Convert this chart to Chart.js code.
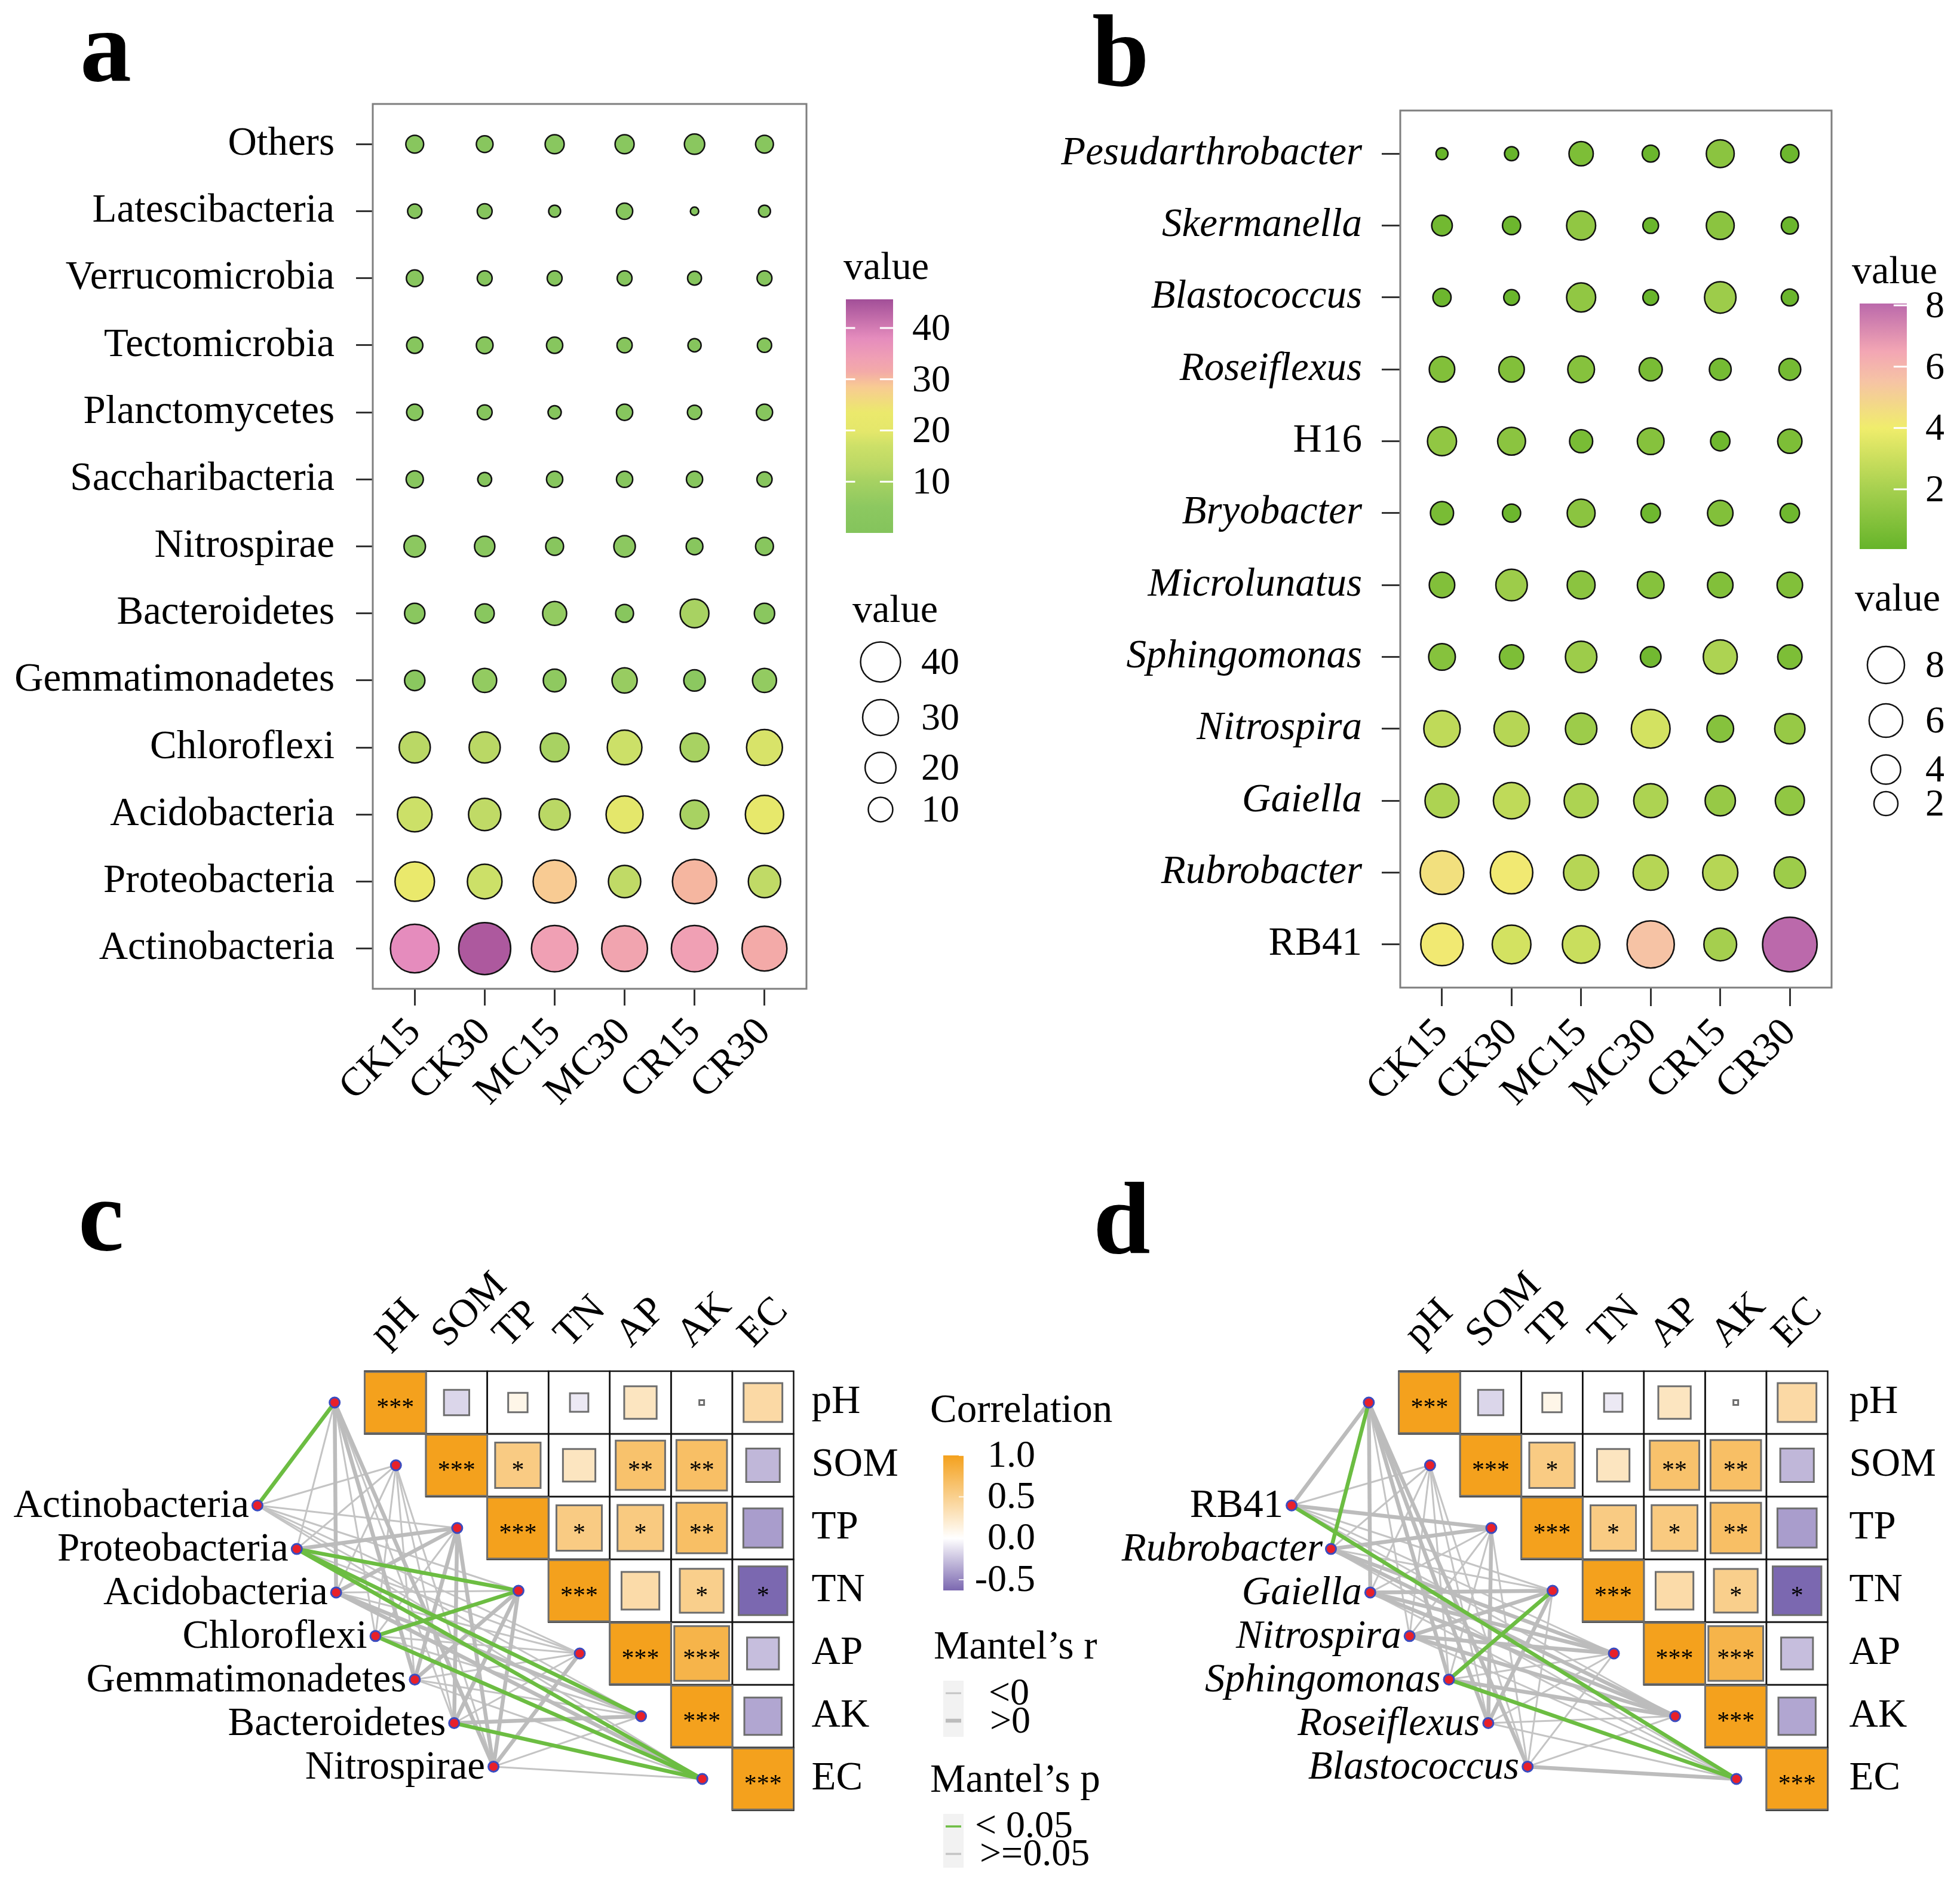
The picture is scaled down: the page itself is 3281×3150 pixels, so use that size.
<!DOCTYPE html>
<html>
<head>
<meta charset="utf-8">
<script src="https://cdn.jsdelivr.net/npm/chart.js@4.4.0/dist/chart.umd.min.js"></script>
<style>
html, body { margin: 0; padding: 0; background: #fff; }
body { width: 3281px; height: 3150px; position: relative; overflow: hidden; }
canvas { position: absolute; }
</style>
</head>
<body>
<canvas id="panel-a" width="1720" height="1900" style="left:0;top:0"></canvas>
<canvas id="panel-b" width="1581" height="1900" style="left:1700px;top:0"></canvas>
<canvas id="panel-c" width="1900" height="1200" style="left:0;top:1950px"></canvas>
<canvas id="panel-d" width="1481" height="1200" style="left:1800px;top:1950px"></canvas>
<script>
// ---- data ----
const samples = ['CK15', 'CK30', 'MC15', 'MC30', 'CR15', 'CR30'];

const phylaA = ['Others', 'Latescibacteria', 'Verrucomicrobia', 'Tectomicrobia',
    'Planctomycetes', 'Saccharibacteria', 'Nitrospirae', 'Bacteroidetes',
    'Gemmatimonadetes', 'Chloroflexi', 'Acidobacteria', 'Proteobacteria',
    'Actinobacteria'];
// relative abundance (%), rows follow phylaA, columns follow samples
const abundA = [
    [2.7, 2.2, 3.3, 3.3, 4.0, 2.7],
    [1.3, 1.5, 0.7, 2.0, 0.23, 0.7],
    [2.2, 1.5, 1.5, 1.5, 1.2, 1.5],
    [2.0, 2.2, 2.0, 1.6, 1.0, 1.3],
    [2.0, 1.5, 1.0, 2.0, 1.3, 2.0],
    [2.4, 1.2, 2.0, 2.0, 2.0, 1.6],
    [4.7, 4.0, 2.7, 4.7, 2.2, 2.7],
    [4.0, 3.3, 6.4, 2.7, 10.4, 4.0],
    [4.0, 6.4, 5.5, 7.3, 4.7, 6.4],
    [12.8, 12.8, 10.4, 16.8, 10.4, 18.3],
    [16.8, 14.1, 12.8, 19.8, 10.4, 21.5],
    [23.1, 16.8, 28.5, 14.1, 30.4, 14.1],
    [38.0, 44.4, 34.0, 33.0, 34.0, 31.5],
];

const generaB = ['Pesudarthrobacter', 'Skermanella', 'Blastococcus', 'Roseiflexus',
    'H16', 'Bryobacter', 'Microlunatus', 'Sphingomonas', 'Nitrospira',
    'Gaiella', 'Rubrobacter', 'RB41'];
const abundB = [
    [0.05, 0.07, 0.72, 0.16, 1.17, 0.22],
    [0.38, 0.22, 1.34, 0.11, 1.17, 0.16],
    [0.22, 0.11, 1.34, 0.11, 1.73, 0.16],
    [0.86, 0.86, 1.01, 0.60, 0.48, 0.48],
    [1.34, 1.17, 0.60, 1.01, 0.29, 0.72],
    [0.60, 0.22, 1.17, 0.29, 0.86, 0.29],
    [0.86, 1.73, 1.17, 1.01, 0.86, 0.86],
    [1.01, 0.72, 1.73, 0.38, 2.19, 0.72],
    [2.68, 2.43, 1.73, 3.22, 1.01, 1.53],
    [2.19, 2.68, 2.19, 2.19, 1.53, 1.34],
    [4.49, 4.16, 2.43, 2.43, 2.43, 1.73],
    [4.16, 3.22, 2.94, 5.55, 1.96, 8.06],
];
const plainNames = ['H16', 'RB41'];

const envFactors = ['pH', 'SOM', 'TP', 'TN', 'AP', 'AK', 'EC'];
// Pearson r between soil factors (upper triangle)
const envCorr = [
    [1, -0.17, 0.10, -0.09, 0.28, 0.006, 0.40],
    [null, 1, 0.55, 0.28, 0.65, 0.68, -0.30],
    [null, null, 1, 0.55, 0.56, 0.68, -0.41],
    [null, null, null, 1, 0.38, 0.51, -0.63],
    [null, null, null, null, 1, 0.80, -0.27],
    [null, null, null, null, null, 1, -0.37],
    [null, null, null, null, null, null, 1],
];
const envSig = [
    ['***', '', '', '', '', '', ''],
    ['', '***', '*', '', '**', '**', ''],
    ['', '', '***', '*', '*', '**', ''],
    ['', '', '', '***', '', '*', '*'],
    ['', '', '', '', '***', '***', ''],
    ['', '', '', '', '', '***', ''],
    ['', '', '', '', '', '', '***'],
];

// Mantel tests: rows = taxa, columns = envFactors
// sign of Mantel's r (1: >0, -1: <0), significance (1: p < 0.05)
const taxaC = ['Actinobacteria', 'Proteobacteria', 'Acidobacteria', 'Chloroflexi',
    'Gemmatimonadetes', 'Bacteroidetes', 'Nitrospirae'];
const mantelSignC = [
    [1, -1, -1, -1, -1, -1, -1],
    [-1, -1, 1, 1, -1, 1, 1],
    [1, -1, 1, -1, -1, 1, 1],
    [-1, -1, -1, 1, -1, -1, 1],
    [1, -1, 1, 1, -1, -1, -1],
    [-1, -1, 1, 1, -1, 1, 1],
    [1, -1, 1, 1, 1, -1, -1],
];
const mantelSigC = [
    [1, 0, 0, 0, 0, 0, 0],
    [0, 0, 0, 1, 0, 1, 1],
    [0, 0, 0, 0, 0, 0, 0],
    [0, 0, 0, 1, 0, 0, 1],
    [0, 0, 0, 0, 0, 0, 0],
    [0, 0, 0, 0, 0, 0, 1],
    [0, 0, 0, 0, 0, 0, 0],
];

const taxaD = ['RB41', 'Rubrobacter', 'Gaiella', 'Nitrospira', 'Sphingomonas',
    'Roseiflexus', 'Blastococcus'];
const mantelSignD = [
    [1, -1, 1, -1, -1, -1, 1],
    [1, -1, 1, -1, 1, 1, -1],
    [1, -1, -1, 1, 1, 1, -1],
    [-1, -1, -1, 1, 1, 1, -1],
    [1, -1, -1, 1, -1, 1, 1],
    [1, -1, 1, 1, -1, -1, -1],
    [1, -1, -1, -1, -1, -1, 1],
];
const mantelSigD = [
    [0, 0, 0, 0, 0, 0, 1],
    [1, 0, 0, 0, 0, 0, 0],
    [0, 0, 0, 0, 0, 0, 0],
    [0, 0, 0, 0, 0, 0, 0],
    [0, 0, 0, 1, 0, 0, 1],
    [0, 0, 0, 0, 0, 0, 0],
    [0, 0, 0, 0, 0, 0, 0],
];

// ---- styling ----
const SERIF = "'Liberation Serif', 'Times New Roman', serif";
Chart.defaults.font.family = SERIF;
Chart.defaults.color = '#000';

const rampA = [[0, '#84c45c'], [5, '#8cc860'], [10.4, '#a8d262'], [12.8, '#bad865'],
    [17, '#cde068'], [19.8, '#e4e76b'], [23.5, '#ebe96c'], [28.5, '#f8cb93'],
    [31.5, '#f3aaa8'], [34, '#f0a0b4'], [38, '#e58cbd'], [45.6, '#a24f98']];
const rampB = [[0, '#66b42a'], [2, '#a6d04f'], [4, '#f0ed6c'], [5.5, '#f6c4a4'],
    [6.5, '#f3a6b4'], [8.06, '#bb69ab']];
const rampCorr = [[-0.63, '#7b68b0'], [0, '#ffffff'], [1, '#f4a11d']];
const GREEN = '#6cbd42';
const GREY_THIN = '#c4c4c4';
const GREY_THICK = '#bcbcbc';
const THIN = 3;
const THICK = 6.5;

function hexRgb(h) {
    return [1, 3, 5].map(i => parseInt(h.slice(i, i + 2), 16));
}

function rampColor(stops, v) {
    'use strict';
    if (v <= stops[0][0]) return stops[0][1];
    for (let i = 1; i < stops.length; ++i) {
        if (v <= stops[i][0]) {
            const t = (v - stops[i - 1][0]) / (stops[i][0] - stops[i - 1][0]);
            const a = hexRgb(stops[i - 1][1]);
            const b = hexRgb(stops[i][1]);
            const c = a.map((x, k) => Math.round(x + (b[k] - x) * t));
            return 'rgb(' + c.join(',') + ')';
        }
    }
    return stops[stops.length - 1][1];
}

// point radius in px (area scale as ggplot's scale_size)
const sizeA = v => 6 + 38 * Math.sqrt(Math.max(0, v - 0.2) / 45.4);
const sizeB = v => 10 + 35.6 * Math.sqrt(Math.max(0, v - 0.05) / 8.01);
// legend key circles
const keySizeA = v => 7.5 + 4.1 * Math.sqrt(v);
const keySizeB = v => 9 + 7.8 * Math.sqrt(v);

function panelTag(letter, x, y) {
    return {
        id: 'panelTag',
        afterDraw(chart) {
            const ctx = chart.ctx;
            ctx.save();
            ctx.fillStyle = '#000';
            ctx.font = 'bold 172px ' + SERIF;
            ctx.textAlign = 'left';
            ctx.textBaseline = 'alphabetic';
            ctx.fillText(letter, x, y);
            ctx.restore();
        },
    };
}

const panelBox = {
    id: 'panelBox',
    afterDatasetsDraw(chart) {
        const a = chart.chartArea;
        const ctx = chart.ctx;
        ctx.save();
        ctx.strokeStyle = '#7f7f7f';
        ctx.lineWidth = 3;
        ctx.strokeRect(a.left, a.top, a.right - a.left, a.bottom - a.top);
        ctx.restore();
    },
};

// colour bar + size key on the right of panels a and b
function valueLegend(cfg) {
    return {
        id: 'valueLegend',
        afterDraw(chart) {
            const ctx = chart.ctx;
            const bar = cfg.bar;
            const yOf = v => bar.bottom - (v - cfg.min) / (cfg.max - cfg.min) * (bar.bottom - bar.top);
            ctx.save();
            ctx.fillStyle = '#000';
            ctx.font = '66px ' + SERIF;
            ctx.textBaseline = 'alphabetic';
            ctx.textAlign = 'left';
            ctx.fillText('value', cfg.titleX, cfg.titleY);

            const g = ctx.createLinearGradient(0, bar.bottom, 0, bar.top);
            cfg.ramp.forEach(([v, c]) => {
                const f = Math.min(1, Math.max(0, (v - cfg.min) / (cfg.max - cfg.min)));
                g.addColorStop(f, c);
            });
            ctx.fillStyle = g;
            ctx.fillRect(bar.left, bar.top, bar.right - bar.left, bar.bottom - bar.top);

            ctx.strokeStyle = '#fff';
            ctx.lineWidth = 3;
            ctx.font = '64px ' + SERIF;
            ctx.fillStyle = '#000';
            ctx.textBaseline = 'middle';
            const w = (bar.right - bar.left) * 0.28;
            cfg.breaks.forEach(v => {
                const y = yOf(v);
                ctx.beginPath();
                if (cfg.bothSides) {
                    ctx.moveTo(bar.left, y);
                    ctx.lineTo(bar.left + w * 0.7, y);
                }
                ctx.moveTo(bar.right - w, y);
                ctx.lineTo(bar.right, y);
                ctx.stroke();
                ctx.fillText(String(v), cfg.labelX, y + 3);
            });

            ctx.textBaseline = 'alphabetic';
            ctx.font = '66px ' + SERIF;
            ctx.fillText('value', cfg.keyTitleX, cfg.keyTitleY);
            ctx.font = '64px ' + SERIF;
            ctx.textBaseline = 'middle';
            ctx.strokeStyle = '#111';
            ctx.lineWidth = 2.5;
            cfg.keys.forEach(([v, y]) => {
                ctx.beginPath();
                ctx.arc(cfg.keyX, y, cfg.keySize(v), 0, Math.PI * 2);
                ctx.fillStyle = '#fff';
                ctx.fill();
                ctx.stroke();
                ctx.fillStyle = '#000';
                ctx.fillText(String(v), cfg.keyLabelX, y + 3);
            });
            ctx.restore();
        },
    };
}

function dotChart(canvasId, rows, values, sizeOf, rampStops, frame, plugins) {
    'use strict';
    const canvas = document.getElementById(canvasId);
    const W = canvas.width;
    const H = canvas.height;
    const points = [];
    rows.forEach((row, i) => samples.forEach((s, j) => {
        points.push({x: j + 1, y: i + 1, v: values[i][j]});
    }));
    return new Chart(canvas, {
        type: 'scatter',
        data: {
            datasets: [{
                data: points,
                pointRadius: c => sizeOf(c.raw.v),
                pointBackgroundColor: c => rampColor(rampStops, c.raw.v),
                pointBorderColor: '#111',
                pointBorderWidth: 2.5,
            }],
        },
        options: {
            responsive: false,
            animation: false,
            devicePixelRatio: 1,
            events: [],
            layout: {padding: {top: frame.top, right: W - frame.right, left: 0, bottom: 0}},
            plugins: {legend: {display: false}, tooltip: {enabled: false}},
            scales: {
                x: {
                    type: 'linear',
                    min: 0.4,
                    max: 6.6,
                    bounds: 'data',
                    afterBuildTicks: s => { s.ticks = samples.map((_, j) => ({value: j + 1})); },
                    afterFit: s => { s.height = H - frame.bottom; },
                    ticks: {
                        autoSkip: false,
                        minRotation: 45,
                        maxRotation: 45,
                        padding: 6,
                        font: {size: 67},
                        callback: (v, i) => samples[i],
                    },
                    grid: {
                        display: true,
                        drawOnChartArea: false,
                        drawTicks: true,
                        tickLength: frame.tick,
                        tickWidth: 3,
                        tickColor: '#333',
                    },
                    border: {display: false},
                },
                y: {
                    type: 'linear',
                    reverse: true,
                    min: 0.4,
                    max: rows.length + 0.6,
                    bounds: 'data',
                    afterBuildTicks: s => { s.ticks = rows.map((_, i) => ({value: i + 1})); },
                    afterFit: s => { s.width = frame.left; },
                    ticks: {
                        autoSkip: false,
                        padding: frame.labelGap,
                        font: c => ({
                            family: SERIF,
                            size: 67,
                            style: frame.italic && !plainNames.includes(rows[c.index]) ? 'italic' : 'normal',
                        }),
                        callback: (v, i) => rows[i],
                    },
                    grid: {
                        display: true,
                        drawOnChartArea: false,
                        drawTicks: true,
                        tickLength: frame.tick,
                        tickWidth: 3,
                        tickColor: '#333',
                    },
                    border: {display: false},
                },
            },
        },
        plugins: [panelBox].concat(plugins),
    });
}

// ---- correlation heatmap + Mantel network (panels c, d) ----
const envNode = i => ({x: i - 0.49, y: i + 0.5});
const taxonNode = k => ({x: -1.75 + k * 0.642, y: 2.14 + k * 0.694});

const corrGrid = {
    id: 'corrGrid',
    beforeDatasetsDraw(chart) {
        const {x, y} = chart.scales;
        const ctx = chart.ctx;
        ctx.save();
        ctx.strokeStyle = '#111';
        ctx.lineWidth = 2.5;
        envFactors.forEach((r, i) => envFactors.forEach((c, j) => {
            if (j < i) return;
            const l = x.getPixelForValue(j);
            const t = y.getPixelForValue(i);
            ctx.strokeRect(l, t, x.getPixelForValue(j + 1) - l, y.getPixelForValue(i + 1) - t);
        }));
        ctx.restore();
    },
};

function networkText(taxa, italic) {
    return {
        id: 'networkText',
        afterDraw(chart) {
            const ctx = chart.ctx;
            ctx.save();
            ctx.fillStyle = '#000';
            // significance stars on the squares
            const last = chart.data.datasets.length - 1;
            const cells = chart.getDatasetMeta(last);
            ctx.font = '42px ' + SERIF;
            ctx.textAlign = 'center';
            ctx.textBaseline = 'middle';
            cells.data.forEach((el, n) => {
                const raw = chart.data.datasets[last].data[n];
                if (raw.sig) ctx.fillText(raw.sig, el.x, el.y + 10);
            });
            // taxon names next to their nodes
            const nodes = chart.getDatasetMeta(last - 1);
            ctx.textAlign = 'right';
            taxa.forEach((name, k) => {
                const el = nodes.data[envFactors.length + k];
                const it = italic && !plainNames.includes(name);
                ctx.font = (it ? 'italic ' : '') + '67px ' + SERIF;
                ctx.fillText(name, el.x - 14, el.y + 2);
            });
            ctx.restore();
        },
    };
}

const mantelLegend = {
    id: 'mantelLegend',
    afterDraw(chart) {
        const ctx = chart.ctx;
        ctx.save();
        ctx.fillStyle = '#000';
        ctx.textAlign = 'left';
        ctx.textBaseline = 'alphabetic';
        ctx.font = '67px ' + SERIF;
        ctx.fillText('Correlation', 1557, 430);
        const top = 486;
        const bottom = 712;
        const yOf = v => top + (1 - v) / (1 - rampCorr[0][0]) * (bottom - top);
        const g = ctx.createLinearGradient(0, bottom, 0, top);
        rampCorr.forEach(([v, c]) => g.addColorStop((v - rampCorr[0][0]) / (1 - rampCorr[0][0]), c));
        ctx.fillStyle = g;
        ctx.fillRect(1579, top, 34, bottom - top);
        ctx.strokeStyle = 'rgba(255,255,255,0.8)';
        ctx.lineWidth = 2;
        ctx.fillStyle = '#000';
        ctx.font = '64px ' + SERIF;
        ctx.textAlign = 'right';
        ctx.textBaseline = 'middle';
        [1.0, 0.5, 0.0, -0.5].forEach(v => {
            const y = yOf(v);
            ctx.beginPath();
            ctx.moveTo(1605, y);
            ctx.lineTo(1613, y);
            ctx.stroke();
            ctx.fillText(v.toFixed(1), 1733, y + 2);
        });

        ctx.textAlign = 'left';
        ctx.textBaseline = 'alphabetic';
        ctx.font = '67px ' + SERIF;
        ctx.fillText('Mantel\u2019s r', 1563, 826);
        ctx.fillText('Mantel\u2019s p', 1557, 1049);
        ctx.fillStyle = '#f2f2f2';
        ctx.fillRect(1579, 863, 34, 94);
        ctx.fillRect(1579, 1086, 34, 90);
        const keyLine = (y, color, width) => {
            ctx.strokeStyle = color;
            ctx.lineWidth = width;
            ctx.beginPath();
            ctx.moveTo(1583, y);
            ctx.lineTo(1609, y);
            ctx.stroke();
        };
        keyLine(884, GREY_THIN, THIN);
        keyLine(930, GREY_THICK, THICK);
        keyLine(1107, GREEN, 3.5);
        keyLine(1153, GREY_THIN, 3.5);
        ctx.fillStyle = '#000';
        ctx.font = '64px ' + SERIF;
        ctx.textBaseline = 'middle';
        ctx.fillText('<0', 1655, 886);
        ctx.fillText('>0', 1657, 933);
        ctx.fillText('< 0.05', 1632, 1108);
        ctx.fillText('>=0.05', 1640, 1155);
        ctx.restore();
    },
};

function mantelChart(canvasId, taxa, signs, sigs, frame, plugins) {
    'use strict';
    const canvas = document.getElementById(canvasId);
    const W = canvas.width;
    const H = canvas.height;
    const datasets = [];
    taxa.forEach((t, k) => envFactors.forEach((e, i) => {
        const sig = sigs[k][i] === 1;
        const pos = signs[k][i] > 0;
        datasets.push({
            data: [taxonNode(k), envNode(i)],
            showLine: true,
            borderColor: sig ? GREEN : (pos ? GREY_THICK : GREY_THIN),
            borderWidth: pos ? THICK : THIN,
            pointRadius: 0,
            order: sig ? 2 : (pos ? 3 : 4),
        });
    }));
    datasets.push({
        data: envFactors.map((_, i) => envNode(i)).concat(taxa.map((_, k) => taxonNode(k))),
        pointRadius: 8.5,
        pointBackgroundColor: '#e8202a',
        pointBorderColor: '#3b4cc0',
        pointBorderWidth: 3,
        order: 0,
    });
    const cells = [];
    envFactors.forEach((r, i) => envFactors.forEach((c, j) => {
        if (j >= i) cells.push({x: j + 0.5, y: i + 0.5, r: envCorr[i][j], sig: envSig[i][j]});
    }));
    datasets.push({
        data: cells,
        pointStyle: 'rect',
        pointRadius: c => {
            const xs = c.chart.scales.x;
            const cell = xs.getPixelForValue(1) - xs.getPixelForValue(0);
            return cell * Math.sqrt(Math.abs(c.raw.r)) / Math.SQRT2;
        },
        pointBackgroundColor: c => rampColor(rampCorr, c.raw.r),
        pointBorderColor: '#6e6e6e',
        pointBorderWidth: 3,
        order: 6,
    });
    return new Chart(canvas, {
        type: 'scatter',
        data: {datasets: datasets},
        options: {
            responsive: false,
            animation: false,
            devicePixelRatio: 1,
            events: [],
            layout: {padding: {left: frame.left, top: 0, right: 0, bottom: H - frame.bottom}},
            plugins: {legend: {display: false}, tooltip: {enabled: false}},
            scales: {
                x: {
                    type: 'linear',
                    position: 'top',
                    min: -2,
                    max: 7,
                    bounds: 'data',
                    afterBuildTicks: s => { s.ticks = envFactors.map((_, j) => ({value: j + 0.5})); },
                    afterFit: s => { s.height = frame.top; },
                    ticks: {
                        autoSkip: false,
                        minRotation: 45,
                        maxRotation: 45,
                        padding: 22,
                        labelOffset: 28,
                        font: {size: 67},
                        callback: (v, i) => envFactors[i],
                    },
                    grid: {display: false, drawTicks: false},
                    border: {display: false},
                },
                y: {
                    type: 'linear',
                    position: 'right',
                    reverse: true,
                    min: 0,
                    max: 7,
                    bounds: 'data',
                    afterBuildTicks: s => { s.ticks = envFactors.map((_, i) => ({value: i + 0.5})); },
                    afterFit: s => { s.width = W - frame.right; },
                    ticks: {
                        autoSkip: false,
                        padding: frame.labelGap,
                        font: {size: 67},
                        callback: (v, i) => envFactors[i],
                    },
                    grid: {display: false, drawTicks: false},
                    border: {display: false},
                },
            },
        },
        plugins: [corrGrid, networkText(taxa, frame.italic)].concat(plugins),
    });
}

dotChart('panel-a', phylaA, abundA, sizeA, rampA,
    {left: 624, right: 1350, top: 174, bottom: 1655, tick: 28, labelGap: 36, italic: false},
    [panelTag('a', 134, 135), valueLegend({
        titleX: 1412, titleY: 467,
        bar: {left: 1416, right: 1495, top: 501, bottom: 892},
        min: 0, max: 45.6, ramp: rampA, breaks: [10, 20, 30, 40], bothSides: true,
        labelX: 1527,
        keyTitleX: 1427, keyTitleY: 1041, keyX: 1474, keyLabelX: 1542,
        keySize: keySizeA,
        keys: [[40, 1108], [30, 1201], [20, 1285], [10, 1355]],
    })]);

dotChart('panel-b', generaB, abundB, sizeB, rampB,
    {left: 644, right: 1366, top: 185, bottom: 1653, tick: 31, labelGap: 33, italic: true},
    [panelTag('b', 128, 143), valueLegend({
        titleX: 1400, titleY: 474,
        bar: {left: 1413, right: 1492, top: 508, bottom: 919},
        min: 0.05, max: 8.06, ramp: rampB, breaks: [2, 4, 6, 8], bothSides: false,
        labelX: 1523,
        keyTitleX: 1405, keyTitleY: 1022, keyX: 1457, keyLabelX: 1523,
        keySize: keySizeB,
        keys: [[8, 1113], [6, 1206], [4, 1288], [2, 1345]],
    })]);

mantelChart('panel-c', taxaC, mantelSignC, mantelSigC,
    {left: 405.3, right: 1328.5, top: 345, bottom: 1080, labelGap: 30, italic: false},
    [panelTag('c', 131, 142), mantelLegend]);

mantelChart('panel-d', taxaD, mantelSignD, mantelSigD,
    {left: 336.5, right: 1259.5, top: 345, bottom: 1080, labelGap: 36, italic: true},
    [panelTag('d', 30, 147)]);
</script>
</body>
</html>
